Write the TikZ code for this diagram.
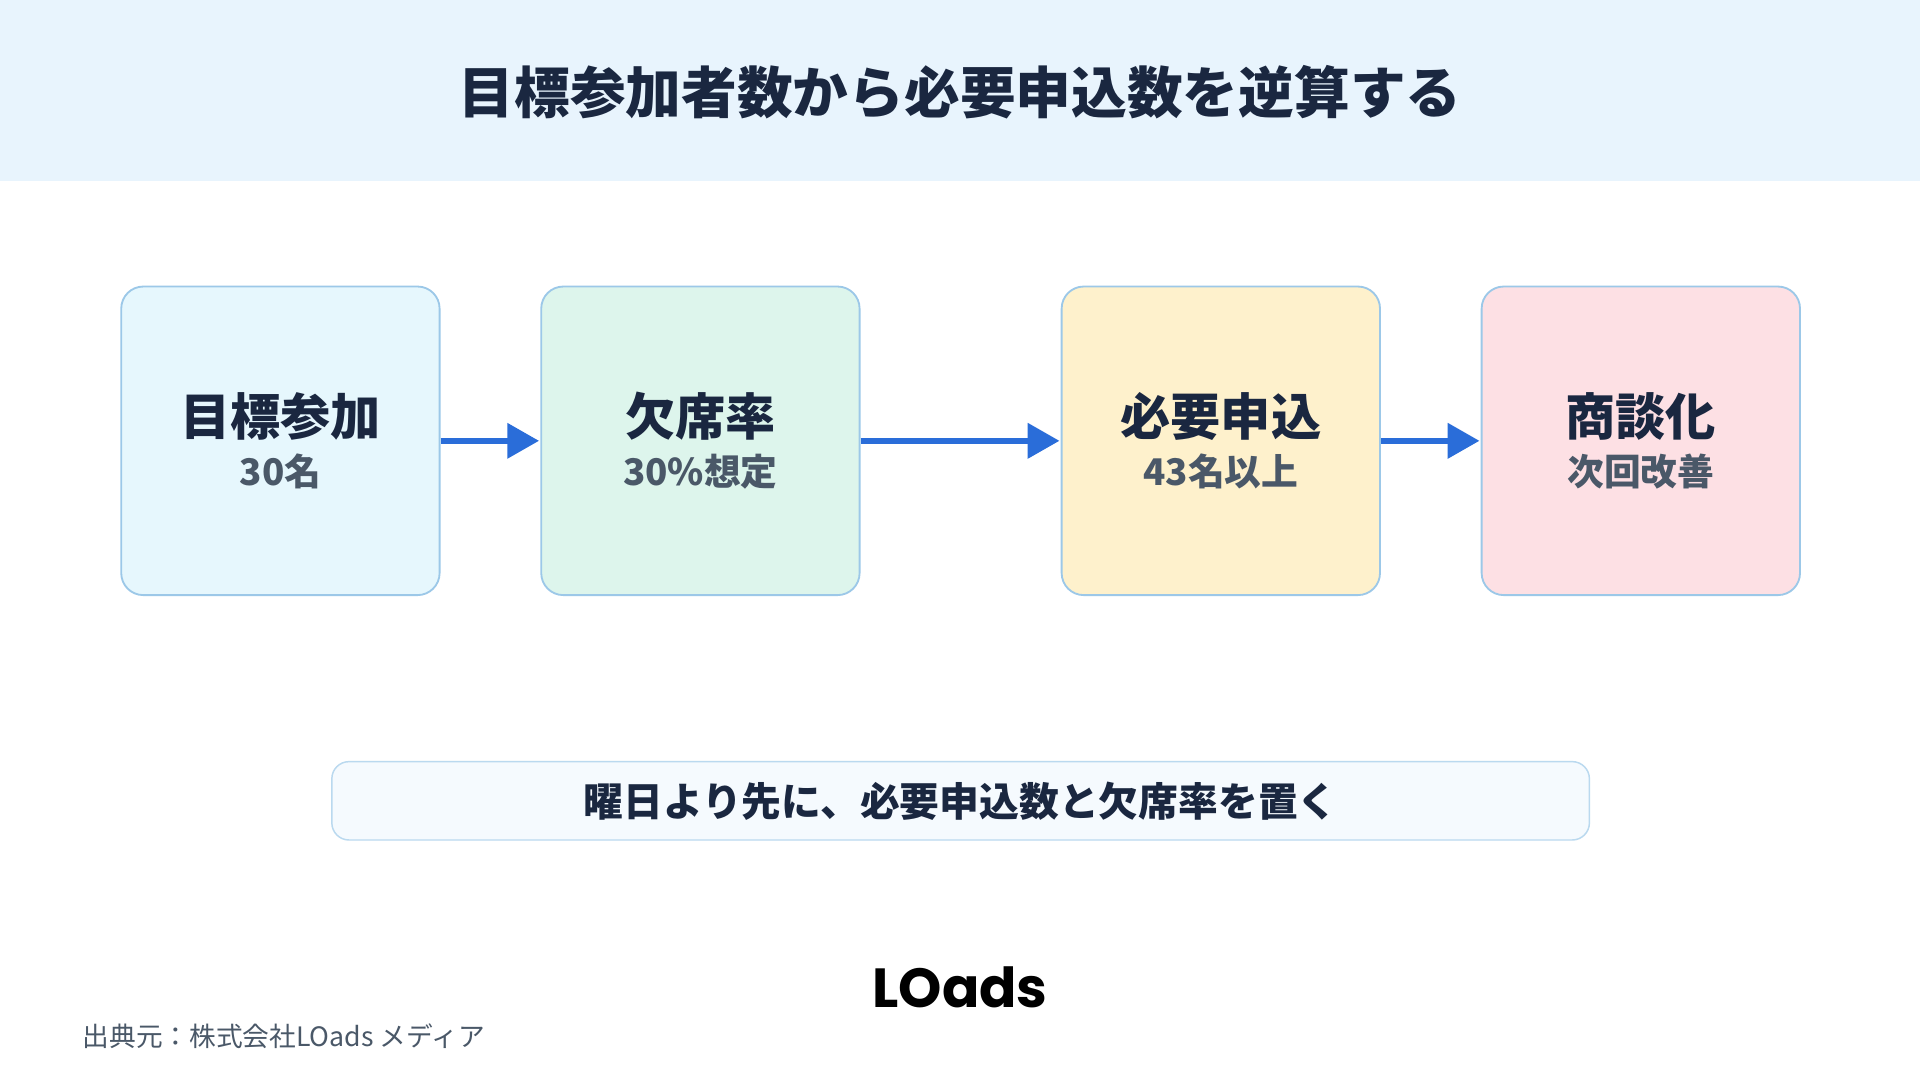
\documentclass[tikz,border=0pt]{standalone}
\usepackage{fontspec}
\setmainfont{Noto Sans CJK JP}
\newfontfamily\logofont{Poppins}
\usetikzlibrary{arrows.meta}
\definecolor{navy}{HTML}{1A2740}
\definecolor{sub}{HTML}{4A5868}
\definecolor{hdr}{HTML}{E8F4FD}
\definecolor{bord}{HTML}{9CC8E8}
\definecolor{arr}{HTML}{2A6DD9}
\definecolor{fa}{HTML}{E6F7FD}
\definecolor{fb}{HTML}{DDF5EC}
\definecolor{fc}{HTML}{FEF1CC}
\definecolor{fd}{HTML}{FDE0E4}
\tikzset{
  card/.style={draw=bord,line width=1.5pt,rounded corners=18pt,minimum width=260pt,minimum height=252pt,inner sep=0pt},
  flow/.style={draw=arr,line width=5pt,-{Triangle[length=26pt,width=28pt]},shorten >=1pt},
  ttl/.style={text=navy,font=\fontsize{41}{46}\selectfont\bfseries},
  sbt/.style={text=sub,font=\fontsize{30}{34}\selectfont\bfseries}
}
\begin{document}
\begin{tikzpicture}[x=1pt,y=-1pt]
\useasboundingbox (0,0) rectangle (1568,882);
\fill[white] (0,0) rectangle (1568,882);
\fill[hdr] (0,0) rectangle (1568,148);
\node[text=navy,font=\fontsize{45.5}{50}\selectfont\bfseries] (title) at (784,75) {目標参加者数から必要申込数を逆算する};
\node[card,fill=fa] (a) at (229,360) {};
\node[card,fill=fb] (b) at (572,360) {};
\node[card,fill=fc] (c) at (997,360) {};
\node[card,fill=fd] (d) at (1340,360) {};
\node[ttl] (at) at (229,340) {目標参加};
\node[sbt] (as) at (229,385) {30名};
\node[ttl] (bt) at (572,340) {欠席率};
\node[sbt] (bs) at (572,385) {30\%想定};
\node[ttl] (ct) at (997,340) {必要申込};
\node[sbt] (cs) at (997,385) {43名以上};
\node[ttl] (dt) at (1340,340) {商談化};
\node[sbt] (ds) at (1340,385) {次回改善};
\draw[flow] (a.east) -- (b.west);
\draw[flow] (b.east) -- (c.west);
\draw[flow] (c.east) -- (d.west);
\node[draw=bord!70,line width=1.2pt,fill=hdr!45,rounded corners=14pt,minimum width=1027pt,minimum height=64pt,text=navy,font=\fontsize{32.5}{36}\selectfont\bfseries] (note) at (784.5,654) {曜日より先に、必要申込数と欠席率を置く};
\node[text=black,font=\logofont\fontsize{45}{50}\selectfont\bfseries] (logo) at (784,806) {LOads};
\node[anchor=west,text=sub,font=\fontsize{21.8}{26}\selectfont] (src) at (64,846) {出典元：株式会社LOads メディア};
\end{tikzpicture}
\end{document}
